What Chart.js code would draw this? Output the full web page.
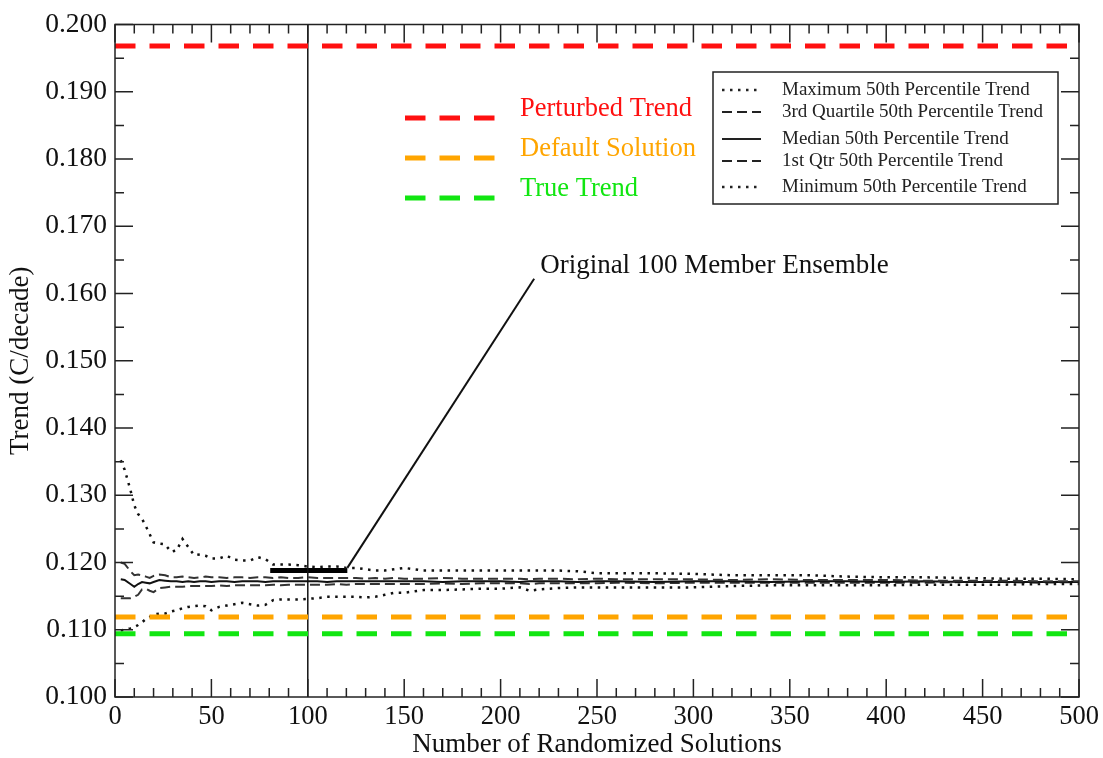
<!DOCTYPE html>
<html lang="en">
<head>
  <meta charset="UTF-8">
  <title>Trend vs Number of Randomized Solutions</title>
  <script src="https://cdn.jsdelivr.net/npm/chart.js"></script>
  <style>
    body { margin: 0; background: #fff; }
  </style>
</head>
<body>
  <canvas id="trendChart" width="1103" height="758"></canvas>

  <script>
    // number of randomized solutions (x) and the five 50th percentile trend curves
    const nSolutions = [3, 5, 8, 10, 12, 14, 16, 18, 20, 23, 26, 29, 32, 35, 38, 41, 44, 47, 50,
      54, 58, 62, 66, 70, 74, 78, 82, 86, 90, 95, 100, 105, 110, 115, 120, 125, 130, 135, 140,
      145, 150, 160, 170, 180, 190, 200, 210, 215, 220, 230, 240, 250, 260, 280, 300, 320, 340,
      360, 380, 400, 420, 440, 460, 480, 500];

    const maxTrend = [.1352, .1338, .1308, .1285, .1272, .1265, .1254, .1242, .1230, .1228, .1227,
      .1216, .1218, .1235, .1223, .1211, .1212, .1210, .1206, .1206, .1210, .1204, .1203, .1203,
      .1208, .1205, .1197, .1197, .1197, .1196, .1194, .1193, .1194, .1194, .1192, .1192, .1190,
      .1188, .1188, .1190, .1192, .1188, .1188, .1188, .1188, .1188, .1188, .1188, .1188, .1188,
      .1187, .1184, .1184, .1184, .1183, .1181, .1181, .1181, .1179, .1178, .1178, .1177, .1176,
      .1176, .1175];

    const q3Trend = [.1200, .1198, .1187, .1181, .1182, .1181, .1179, .1177, .1180, .1182, .1181,
      .1178, .1178, .1179, .1178, .1177, .1178, .1179, .1178, .1178, .1177, .1178, .1178, .1177,
      .1178, .1178, .1177, .1178, .1177, .1177, .1178, .1177, .1177, .1177, .1177, .1177, .1176,
      .1177, .1176, .1177, .1176, .1176, .1177, .1176, .1176, .1176, .1176, .1175, .1176, .1176,
      .1175, .1176, .1175, .1175, .1175, .1174, .1175, .1174, .1174, .1174, .1173, .1173, .1173,
      .1172, .1172];

    const medianTrend = [.1175, .1174, .1168, .1164, .1168, .1171, .1170, .1169, .1171, .1174, .1173,
      .1172, .1172, .1171, .1172, .1171, .1172, .1172, .1171, .1172, .1172, .1171, .1172, .1172,
      .1172, .1171, .1172, .1172, .1172, .1172, .1172, .1172, .1171, .1172, .1172, .1172, .1172,
      .1172, .1172, .1172, .1172, .1172, .1171, .1172, .1172, .1172, .1171, .1172, .1172, .1172,
      .1171, .1172, .1172, .1171, .1172, .1172, .1171, .1172, .1172, .1171, .1172, .1171, .1171,
      .1171, .1171];

    const q1Trend = [.1147, .1147, .1147, .1149, .1152, .1160, .1161, .1158, .1156, .1162, .1163,
      .1164, .1164, .1164, .1165, .1165, .1165, .1165, .1165, .1166, .1165, .1166, .1166, .1166,
      .1166, .1166, .1167, .1166, .1167, .1167, .1167, .1167, .1167, .1168, .1167, .1168, .1168,
      .1168, .1168, .1168, .1168, .1168, .1169, .1168, .1169, .1169, .1169, .1168, .1169, .1169,
      .1169, .1169, .1170, .1169, .1170, .1170, .1170, .1170, .1170, .1170, .1170, .1171, .1171,
      .1170, .1171];

    const minTrend = [.1099, .1100, .1102, .1104, .1107, .1111, .1116, .1119, .1123, .1124, .1124,
      .1127, .1129, .1132, .1134, .1135, .1136, .1135, .1129, .1134, .1136, .1138, .1140, .1138,
      .1136, .1137, .1144, .1145, .1145, .1145, .1146, .1147, .1149, .1149, .1149, .1149, .1148,
      .1149, .1152, .1155, .1155, .1159, .1159, .1160, .1161, .1161, .1163, .1158, .1160, .1162,
      .1163, .1163, .1163, .1163, .1163, .1165, .1166, .1166, .1166, .1166, .1167, .1167, .1167,
      .1168, .1168];

    // reference trends (C/decade)
    const perturbedTrend = 0.1968;
    const defaultSolution = 0.1119;
    const trueTrend = 0.1094;

    // original 100 member ensemble marker and its callout
    const ensembleSize = 100;
    const ensembleRange = [80.5, 120.5];
    const ensembleValue = 0.1188;
    const calloutFrom = [120.5, 0.1192];
    const calloutTo = [217.4, 0.1622];
    const calloutText = 'Original 100 Member Ensemble';

    const refLegend = [
      { label: 'Perturbed Trend', color: '#ff1010' },
      { label: 'Default Solution', color: '#ffa500' },
      { label: 'True Trend', color: '#11e611' }
    ];
    const curveLegend = [
      { label: 'Maximum 50th Percentile Trend', dash: [2.5, 5.5], width: 2.5 },
      { label: '3rd Quartile 50th Percentile Trend', dash: [10, 5], width: 2 },
      { label: 'Median 50th Percentile Trend', dash: [], width: 2 },
      { label: '1st Qtr 50th Percentile Trend', dash: [10, 5], width: 2 },
      { label: 'Minimum 50th Percentile Trend', dash: [2.5, 5.5], width: 2.5 }
    ];

    const SERIF = '"Liberation Serif", "Times New Roman", serif';

    const pts = ys => nSolutions.map((n, i) => ({ x: n, y: ys[i] }));
    const hline = v => [{ x: 0, y: v }, { x: 500, y: v }];

    const refDash = { borderWidth: 5, borderDash: [20.5, 14], pointRadius: 0 };

    // frame with inward ticks on all four sides, plus legends and callout text
    const decorPlugin = {
      id: 'decor',
      afterDraw(chart) {
        const { ctx, chartArea: a, scales: { x, y } } = chart;
        ctx.save();
        ctx.strokeStyle = '#222';
        ctx.lineWidth = 1.5;
        ctx.setLineDash([]);
        ctx.strokeRect(a.left, a.top, a.right - a.left, a.bottom - a.top);
        ctx.beginPath();
        for (let v = 0; v <= 500; v += 10) {
          const px = x.getPixelForValue(v);
          const len = v % 50 === 0 ? 18 : 9;
          ctx.moveTo(px, a.bottom); ctx.lineTo(px, a.bottom - len);
          ctx.moveTo(px, a.top); ctx.lineTo(px, a.top + len);
        }
        for (let i = 0; i <= 20; i++) {
          const py = y.getPixelForValue(0.1 + i * 0.005);
          const len = i % 2 === 0 ? 18 : 9;
          ctx.moveTo(a.left, py); ctx.lineTo(a.left + len, py);
          ctx.moveTo(a.right, py); ctx.lineTo(a.right - len, py);
        }
        ctx.stroke();

        // coloured reference legend
        ctx.textBaseline = 'middle';
        ctx.font = '26.5px ' + SERIF;
        refLegend.forEach((item, i) => {
          const ly = 118 + i * 40;
          ctx.strokeStyle = item.color;
          ctx.lineWidth = 5;
          ctx.setLineDash([20.5, 14]);
          ctx.beginPath();
          ctx.moveTo(405, ly); ctx.lineTo(495, ly);
          ctx.stroke();
          ctx.fillStyle = item.color;
          ctx.fillText(item.label, 520, ly - 9);
        });

        // boxed curve legend
        ctx.setLineDash([]);
        ctx.strokeStyle = '#222';
        ctx.lineWidth = 1.5;
        ctx.strokeRect(713, 72, 345, 132);
        ctx.font = '19px ' + SERIF;
        ctx.fillStyle = '#222';
        const rows = [90, 112, 139, 161, 187];
        curveLegend.forEach((item, i) => {
          ctx.setLineDash(item.dash);
          ctx.lineWidth = item.width;
          ctx.beginPath();
          ctx.moveTo(722, rows[i]); ctx.lineTo(761, rows[i]);
          ctx.stroke();
          ctx.fillText(item.label, 782, rows[i]);
        });

        // callout label
        ctx.font = '27px ' + SERIF;
        ctx.fillStyle = '#111';
        ctx.fillText(calloutText, x.getPixelForValue(calloutTo[0]) + 6, y.getPixelForValue(calloutTo[1]) - 13);
        ctx.restore();
      }
    };

    const ctx = document.getElementById('trendChart').getContext('2d');
    new Chart(ctx, {
      type: 'line',
      data: {
        datasets: [
          { data: hline(perturbedTrend), borderColor: refLegend[0].color, ...refDash },
          { data: hline(defaultSolution), borderColor: refLegend[1].color, ...refDash },
          { data: hline(trueTrend), borderColor: refLegend[2].color, ...refDash },
          { data: pts(maxTrend), borderColor: '#111', borderWidth: 2.5, borderDash: [2.5, 5.5], pointRadius: 0 },
          { data: pts(q3Trend), borderColor: '#333', borderWidth: 2, borderDash: [10, 5], pointRadius: 0 },
          { data: pts(medianTrend), borderColor: '#111', borderWidth: 2, pointRadius: 0 },
          { data: pts(q1Trend), borderColor: '#333', borderWidth: 2, borderDash: [10, 5], pointRadius: 0 },
          { data: pts(minTrend), borderColor: '#111', borderWidth: 2.5, borderDash: [2.5, 5.5], pointRadius: 0 },
          { data: [{ x: ensembleSize, y: 0.1 }, { x: ensembleSize, y: 0.2 }], borderColor: '#111', borderWidth: 1.5, pointRadius: 0 },
          { data: [{ x: ensembleRange[0], y: ensembleValue }, { x: ensembleRange[1], y: ensembleValue }], borderColor: '#000', borderWidth: 5, pointRadius: 0 },
          { data: [{ x: calloutFrom[0], y: calloutFrom[1] }, { x: calloutTo[0], y: calloutTo[1] }], borderColor: '#111', borderWidth: 2, pointRadius: 0 }
        ]
      },
      options: {
        responsive: false,
        animation: false,
        layout: { padding: { top: 24, right: 24, left: 0, bottom: 0 } },
        plugins: { legend: { display: false }, tooltip: { enabled: false } },
        scales: {
          x: {
            type: 'linear', min: 0, max: 500,
            grid: { display: false, drawTicks: false },
            border: { display: false },
            ticks: { stepSize: 50, padding: 4, color: '#111', font: { family: SERIF, size: 26.5 } },
            title: { display: true, text: 'Number of Randomized Solutions', color: '#111',
              font: { family: SERIF, size: 27, lineHeight: 1 }, padding: { top: 0, bottom: 0 } },
            afterFit: s => { s.height = 61; }
          },
          y: {
            type: 'linear', min: 0.1, max: 0.2,
            grid: { display: false, drawTicks: false },
            border: { display: false },
            ticks: { stepSize: 0.01, padding: 8, color: '#111', font: { family: SERIF, size: 27.5 },
              callback: v => v.toFixed(3) },
            title: { display: true, text: 'Trend (C/decade)', color: '#111',
              font: { family: SERIF, size: 27, lineHeight: 1 }, padding: { top: 7, bottom: 0 } },
            afterFit: s => { s.width = 115; }
          }
        }
      },
      plugins: [decorPlugin]
    });
  </script>
</body>
</html>
